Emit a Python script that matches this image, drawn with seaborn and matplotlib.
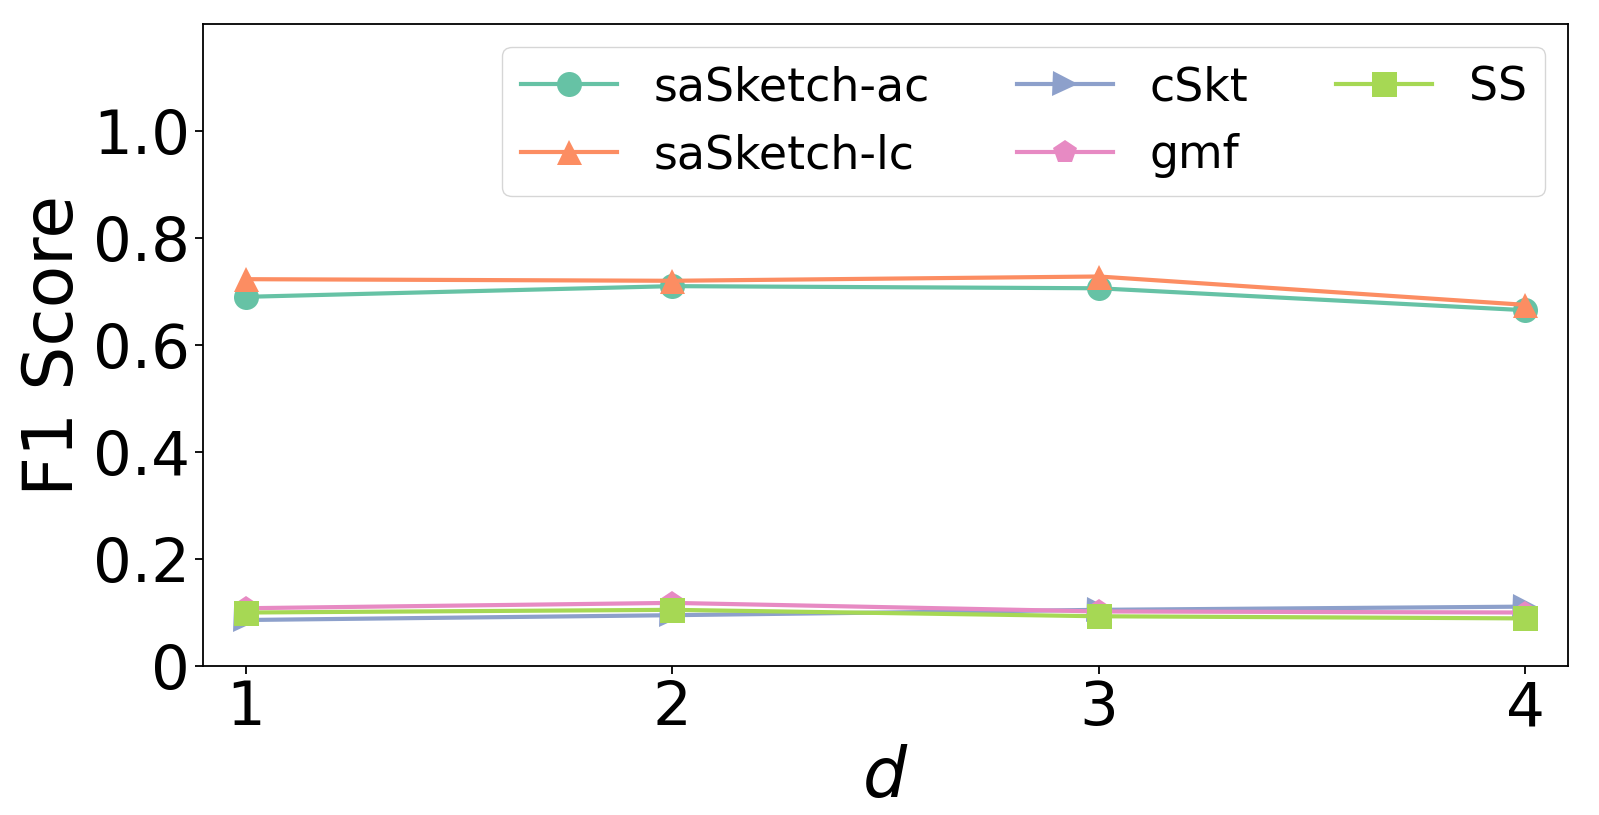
import matplotlib
matplotlib.use("Agg")
import matplotlib.pyplot as plt
import seaborn as sns
import pandas as pd

# data
d_values = [1, 2, 3, 4]
sasketch_ac = [0.690, 0.710, 0.706, 0.665]
sasketch_lc = [0.723, 0.720, 0.728, 0.675]
cskt = [0.086, 0.095, 0.105, 0.111]
gmf = [0.108, 0.118, 0.102, 0.100]
ss = [0.100, 0.105, 0.093, 0.089]

names = ["saSketch-ac", "saSketch-lc", "cSkt", "gmf", "SS"]
series = [sasketch_ac, sasketch_lc, cskt, gmf, ss]

rows = []
for name, vals in zip(names, series):
    for d, v in zip(d_values, vals):
        rows.append({"d": d, "F1": v, "method": name})
df = pd.DataFrame(rows)

palette = dict(zip(names, sns.color_palette("Set2", 5)))
markers = dict(zip(names, ["o", "^", ">", "p", "s"]))

fig, ax = plt.subplots(figsize=(15.99, 8.15), dpi=100)
sns.lineplot(data=df, x="d", y="F1", hue="method", style="method",
             hue_order=names, style_order=names, palette=palette,
             markers=markers, dashes=False, linewidth=3, markersize=18,
             markeredgewidth=0, ax=ax)

ax.set_xlim(0.9, 4.1)
ax.set_ylim(0, 1.2)
ax.set_xticks(d_values)
ax.set_yticks([0, 0.2, 0.4, 0.6, 0.8, 1.0])
ax.set_yticklabels(["0", "0.2", "0.4", "0.6", "0.8", "1.0"])
ax.tick_params(labelsize=44, length=6, width=1.3)
for s in ax.spines.values():
    s.set_linewidth(1.3)
ax.set_xlabel("$d$", fontsize=50)
ax.set_ylabel("F1 Score", fontsize=50)

ax.legend(ncol=3, loc="upper right", fontsize=33, handlelength=2.1,
          columnspacing=1.9, frameon=True)

fig.subplots_adjust(left=0.127, right=0.9806, top=0.9706, bottom=0.1828)
fig.savefig("out.png", dpi=100)
